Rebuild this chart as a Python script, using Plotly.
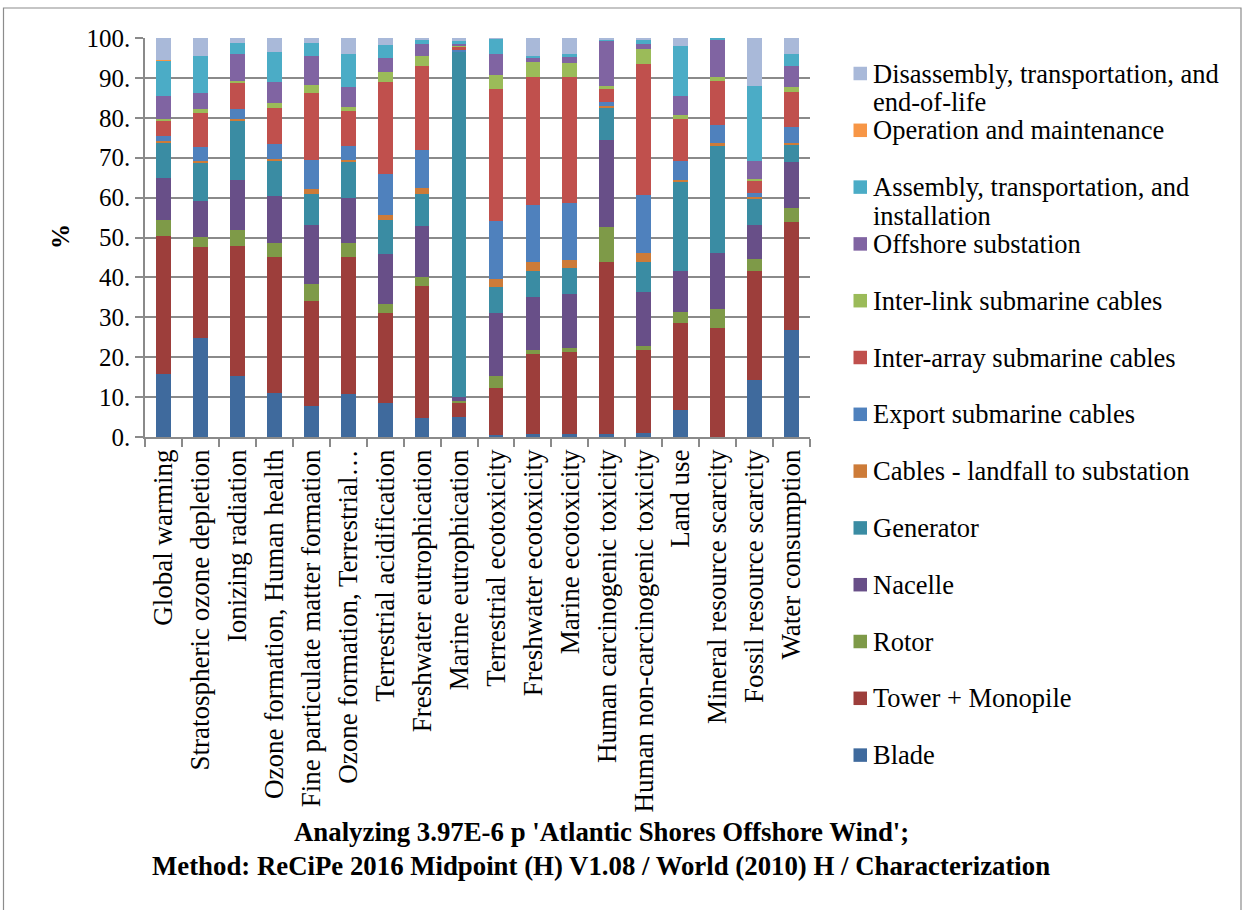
import plotly.graph_objects as go

# Impact categories (x axis)
categories = [
    "Global warming",
    "Stratospheric ozone depletion",
    "Ionizing radiation",
    "Ozone formation, Human health",
    "Fine particulate matter formation",
    "Ozone formation, Terrestrial\u2026",
    "Terrestrial acidification",
    "Freshwater eutrophication",
    "Marine eutrophication",
    "Terrestrial ecotoxicity",
    "Freshwater ecotoxicity",
    "Marine ecotoxicity",
    "Human carcinogenic toxicity",
    "Human non-carcinogenic toxicity",
    "Land use",
    "Mineral resource scarcity",
    "Fossil resource scarcity",
    "Water consumption",
]

# Contribution of each component (%), stacked bottom to top
blade = [15.8, 24.9, 15.3, 11.0, 7.8, 10.7, 8.5, 4.7, 4.9, 0.4, 0.7, 0.7, 0.7, 1.1, 6.8, 0.1, 14.3, 26.9]
tower_monopile = [34.7, 22.7, 32.5, 34.1, 26.4, 34.4, 22.6, 33.2, 3.7, 12.0, 20.2, 20.7, 43.1, 20.7, 21.8, 27.1, 27.4, 27.0]
rotor = [4.0, 2.5, 4.2, 3.6, 4.2, 3.6, 2.2, 2.1, 0.4, 2.8, 0.9, 1.0, 8.8, 0.9, 2.8, 5.0, 2.9, 3.6]
nacelle = [10.5, 9.0, 12.4, 11.6, 14.8, 11.3, 12.6, 13.0, 1.0, 15.8, 13.2, 13.4, 21.8, 13.6, 10.3, 13.9, 8.6, 11.3]
generator = [8.6, 9.6, 15.0, 8.9, 7.8, 8.8, 8.4, 8.0, 86.6, 6.5, 6.7, 6.6, 8.2, 7.5, 22.2, 26.8, 6.5, 4.5]
cables_landfall = [0.5, 0.5, 0.4, 0.6, 1.1, 0.5, 1.4, 1.5, 0.1, 2.1, 2.1, 2.0, 0.3, 2.3, 0.6, 0.8, 0.4, 0.5]
export_cables = [1.4, 3.5, 2.4, 3.7, 7.2, 3.6, 10.3, 9.4, 0.3, 14.5, 14.4, 14.2, 1.0, 14.6, 4.6, 4.5, 1.0, 3.8]
inter_array_cables = [3.7, 8.5, 6.4, 9.0, 17.0, 8.8, 23.0, 21.1, 0.8, 33.0, 32.1, 31.7, 3.5, 32.9, 10.5, 11.0, 3.1, 8.9]
inter_link_cables = [0.5, 1.0, 0.7, 1.1, 1.9, 0.9, 2.4, 2.5, 0.1, 3.6, 3.6, 3.5, 0.5, 3.6, 1.1, 1.1, 0.5, 1.1]
offshore_substation = [5.8, 4.1, 6.8, 5.3, 7.4, 5.2, 3.7, 3.0, 0.5, 5.4, 1.2, 1.5, 11.4, 1.3, 4.8, 9.4, 4.5, 5.4]
assembly = [8.8, 9.3, 2.6, 7.5, 3.1, 8.3, 3.2, 1.0, 0.8, 3.8, 0.5, 0.6, 0.4, 1.0, 12.6, 0.3, 18.7, 2.9]
operation_maintenance = [0.1, 0.0, 0.0, 0.0, 0.0, 0.0, 0.0, 0.0, 0.0, 0.0, 0.0, 0.0, 0.0, 0.0, 0.0, 0.0, 0.0, 0.0]
disassembly = [5.6, 4.4, 1.3, 3.6, 1.3, 3.9, 1.7, 0.5, 0.8, 0.1, 4.4, 4.1, 0.3, 0.5, 1.9, 0.0, 12.1, 4.1]

series_names = [
    "Blade",
    "Tower + Monopile",
    "Rotor",
    "Nacelle",
    "Generator",
    "Cables - landfall to substation",
    "Export submarine cables",
    "Inter-array submarine cables",
    "Inter-link submarine cables",
    "Offshore substation",
    "Assembly, transportation, and installation",
    "Operation and maintenance",
    "Disassembly, transportation, and end-of-life",
]
series_values = [
    blade, tower_monopile, rotor, nacelle, generator, cables_landfall,
    export_cables, inter_array_cables, inter_link_cables, offshore_substation,
    assembly, operation_maintenance, disassembly,
]
series_colors = [
    "#3F6A9D", "#9D3E3B", "#7E9A48", "#684F88", "#3A8CA3", "#CD7B38",
    "#4F81BD", "#C0504D", "#9BBB59", "#8064A2", "#4BACC6", "#F79646", "#A9B9D9",
]
# Legend text, split over lines as shown
legend_lines = [
    ["Blade"],
    ["Tower + Monopile"],
    ["Rotor"],
    ["Nacelle"],
    ["Generator"],
    ["Cables - landfall to substation"],
    ["Export submarine cables"],
    ["Inter-array submarine cables"],
    ["Inter-link submarine cables"],
    ["Offshore substation"],
    ["Assembly, transportation, and", "installation"],
    ["Operation and maintenance"],
    ["Disassembly, transportation, and", "end-of-life"],
]

y_ticks = [0, 10, 20, 30, 40, 50, 60, 70, 80, 90, 100]
y_tick_text = ["0.", "10.", "20.", "30.", "40.", "50.", "60.", "70.", "80.", "90.", "100."]

title_lines = [
    "Analyzing 3.97E-6 p 'Atlantic Shores Offshore Wind';",
    "Method: ReCiPe 2016 Midpoint (H) V1.08 / World (2010) H / Characterization",
]

W, H = 1245, 910
PLOT_L, PLOT_R, PLOT_T, PLOT_B = 145, 810, 38, 437
FONT = "Liberation Serif"
GRID = "#8A8A8A"


def px_x(px):
    return (px - PLOT_L) / (PLOT_R - PLOT_L)


def px_y(py):
    return (PLOT_B - py) / (PLOT_B - PLOT_T)


fig = go.Figure()
for name, vals, col in zip(series_names, series_values, series_colors):
    fig.add_trace(go.Bar(
        x=categories, y=vals, name=name,
        marker=dict(color=col, line=dict(width=0)),
        showlegend=False,
    ))

annotations = []
shapes = []

# Legend: top entry is the last series
legend_top = 73.5
legend_step = 56.8
sq = 13.5
for i, idx in enumerate(range(len(series_names) - 1, -1, -1)):
    cy = legend_top + i * legend_step
    shapes.append(dict(
        type="rect", xref="paper", yref="paper",
        x0=px_x(853.5), x1=px_x(853.5 + sq),
        y0=px_y(cy - sq / 2), y1=px_y(cy + sq / 2),
        fillcolor=series_colors[idx], line=dict(width=0),
    ))
    for j, line in enumerate(legend_lines[idx]):
        annotations.append(dict(
            text=line, xref="paper", yref="paper",
            x=px_x(871), y=px_y(cy + j * 28.5),
            xanchor="left", yanchor="middle", showarrow=False,
            font=dict(family=FONT, size=26.5, color="black"),
        ))

# Y axis title
annotations.append(dict(
    text="<b>%</b>", xref="paper", yref="paper",
    x=px_x(60), y=px_y(237), textangle=-90,
    xanchor="center", yanchor="middle", showarrow=False,
    font=dict(family=FONT, size=25, color="black"),
))

# Chart title below the axis labels
for j, line in enumerate(title_lines):
    annotations.append(dict(
        text="<b>" + line + "</b>", xref="paper", yref="paper",
        x=px_x(601), y=px_y(832 + j * 34),
        xanchor="center", yanchor="middle", showarrow=False,
        font=dict(family=FONT, size=26.8, color="black"),
    ))

# Chart frame
shapes.append(dict(
    type="rect", xref="paper", yref="paper",
    x0=px_x(3.5), x1=px_x(1241), y0=px_y(8), y1=px_y(915),
    line=dict(color="#8C8C8C", width=1.2), fillcolor="rgba(0,0,0,0)", layer="below",
))

fig.update_layout(
    width=W, height=H, autosize=False,
    barmode="stack", bargap=0.6,
    paper_bgcolor="white", plot_bgcolor="white",
    margin=dict(l=PLOT_L, r=W - PLOT_R, t=PLOT_T, b=H - PLOT_B, pad=0),
    font=dict(family=FONT, color="black"),
    annotations=annotations, shapes=shapes,
    showlegend=False,
)
fig.update_xaxes(
    type="category", tickangle=-90,
    tickfont=dict(family=FONT, size=27, color="black"),
    showline=True, linecolor=GRID, linewidth=1.5,
    ticks="outside", tickson="boundaries", ticklen=8, tickcolor=GRID, tickwidth=1.5,
    showgrid=False,
)
fig.update_yaxes(
    range=[0, 100], tickvals=y_ticks, ticktext=y_tick_text,
    tickfont=dict(family=FONT, size=25, color="black"),
    showline=True, linecolor=GRID, linewidth=1.5,
    ticks="outside", ticklen=8, tickcolor=GRID, tickwidth=1.5,
    showgrid=True, gridcolor=GRID, gridwidth=1.5,
    zeroline=False,
)

fig.write_html("out.html")
